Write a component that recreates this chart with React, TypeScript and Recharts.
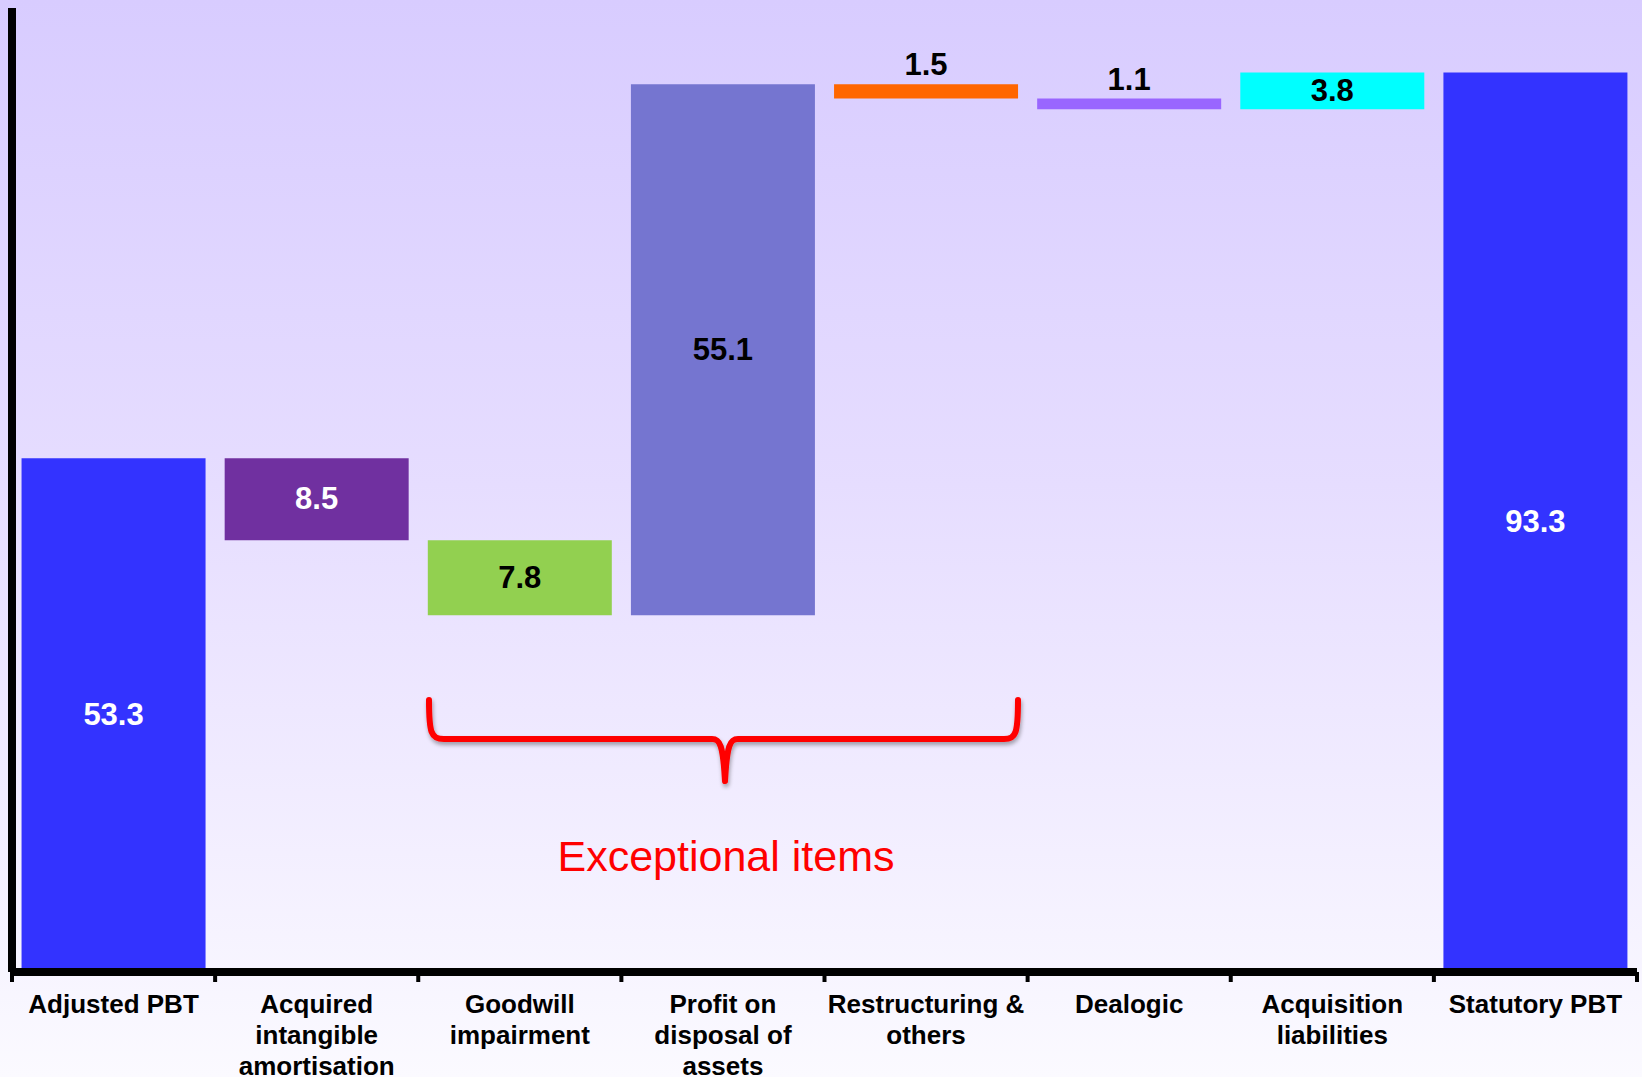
import { BarChart, Bar, XAxis, YAxis, Cell, LabelList } from 'recharts'

const categories = [
  'Adjusted PBT',
  'Acquired\nintangible\namortisation',
  'Goodwill\nimpairment',
  'Profit on\ndisposal of\nassets',
  'Restructuring &\nothers',
  'Dealogic',
  'Acquisition\nliabilities',
  'Statutory PBT',
]
const changes = [53.3, -8.5, -7.8, 55.1, -1.5, -1.1, 3.8, 93.3]
const isTotal = [true, false, false, false, false, false, false, true]
const barColors = ['#3333ff', '#7030a0', '#92d050', '#7575d0', '#ff6600', '#9966ff', '#00ffff', '#3333ff']
const labelColors = ['#fff', '#fff', '#000', '#000', '#000', '#000', '#000', '#fff']

const W = 1642
const H = 1077
const LEFT = 12
const RIGHT = 5
const BAND = (W - LEFT - RIGHT) / categories.length

let running = 0
const chartData = categories.map((name, i) => {
  const c = changes[i]
  let base = 0
  let delta = c
  if (isTotal[i]) {
    running = c
  } else {
    const next = running + c
    base = Math.min(running, next)
    delta = Math.abs(c)
    running = next
  }
  return { name, base, delta }
})

const FONT = '"Liberation Sans", Arial, sans-serif'

function AxisTick(props: any) {
  const { x, y, payload, index } = props
  const lines = String(payload.value).split('\n')
  const last = index === categories.length - 1
  return (
    <g>
      <rect x={x - BAND / 2 - 2} y={y} width={4} height={10} fill="#000" />
      {last && <rect x={x + BAND / 2 - 2} y={y} width={4} height={10} fill="#000" />}
      <text x={x} y={y + 41} textAnchor="middle" fontFamily={FONT} fontWeight="bold" fontSize={26} fill="#000">
        {lines.map((l, k) => (
          <tspan key={k} x={x} dy={k === 0 ? 0 : 31}>
            {l}
          </tspan>
        ))}
      </text>
    </g>
  )
}

function ValueLabel(props: any) {
  const { x, y, width, height, value, index } = props
  const above = height < 25
  const ty = above ? y - 9 : y + height / 2 + 10
  return (
    <text
      x={x + width / 2}
      y={ty}
      textAnchor="middle"
      fontFamily={FONT}
      fontWeight="bold"
      fontSize={31}
      fill={above ? '#000' : labelColors[index]}
    >
      {Number(value).toFixed(1)}
    </text>
  )
}

export default function App() {
  return (
    <div
      style={{
        position: 'fixed',
        left: 0,
        top: 0,
        width: W,
        height: H,
        background: 'linear-gradient(to bottom, #d8ccff 0%, #e6ddff 45%, #fbfaff 100%)',
      }}
    >
      <BarChart
        width={W}
        height={H}
        data={chartData}
        margin={{ top: 8, right: RIGHT, left: 0, bottom: 0 }}
        barCategoryGap="4.7%"
      >
        <YAxis width={LEFT} domain={[0, 100]} tick={false} tickLine={false} axisLine={{ stroke: '#000', strokeWidth: 8 }} />
        <XAxis
          dataKey="name"
          height={105}
          interval={0}
          tickSize={0}
          tickMargin={0}
          tickLine={false}
          axisLine={{ stroke: '#000', strokeWidth: 8 }}
          tick={<AxisTick />}
        />
        <Bar dataKey="base" stackId="w" fill="transparent" isAnimationActive={false} />
        <Bar dataKey="delta" stackId="w" isAnimationActive={false}>
          {chartData.map((_, i) => (
            <Cell key={i} fill={barColors[i]} />
          ))}
          <LabelList dataKey="delta" content={<ValueLabel />} />
        </Bar>
      </BarChart>
      <svg width={W} height={H} style={{ position: 'absolute', left: 0, top: 0, pointerEvents: 'none' }}>
        <defs>
          <filter id="sh" x="-5%" y="-20%" width="110%" height="140%">
            <feGaussianBlur in="SourceAlpha" stdDeviation="2" />
            <feOffset dx="1" dy="3" result="b" />
            <feComponentTransfer>
              <feFuncA type="linear" slope="0.35" />
            </feComponentTransfer>
            <feMerge>
              <feMergeNode />
              <feMergeNode in="SourceGraphic" />
            </feMerge>
          </filter>
        </defs>
        <path
          d="M429,700 C429,733 431,739 444,739 L712,739 C720,739 723,745 725,781 C727,745 730,739 738,739 L1004,739 C1016,739 1018,733 1018,700"
          fill="none"
          stroke="#ff0000"
          strokeWidth={6}
          strokeLinecap="round"
          strokeLinejoin="round"
          filter="url(#sh)"
        />
        <text x={726} y={871} textAnchor="middle" fontFamily={FONT} fontSize={43} fill="#ff0000">
          Exceptional items
        </text>
      </svg>
    </div>
  )
}
